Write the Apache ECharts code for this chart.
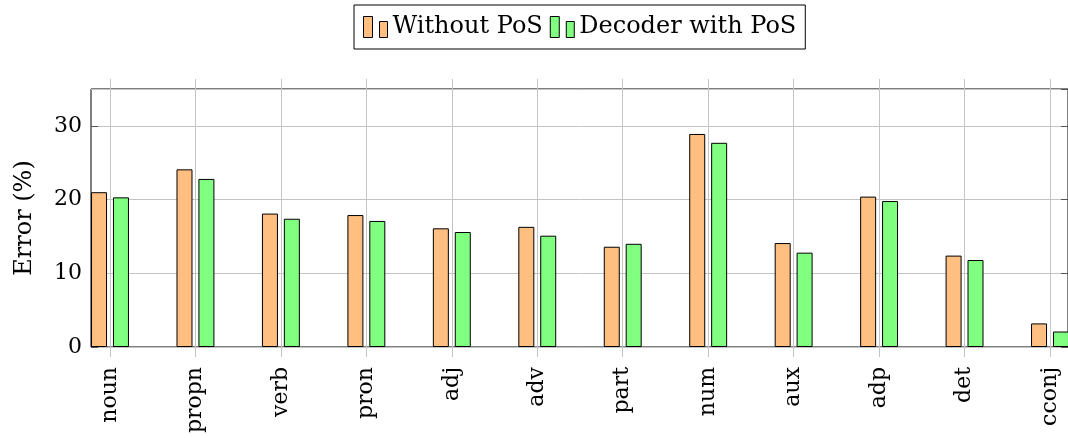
<!DOCTYPE html>
<html>
<head>
<meta charset="utf-8">
<script src="https://cdn.jsdelivr.net/npm/echarts@6/dist/echarts.min.js"></script>
<style>
  html, body { margin: 0; padding: 0; background: #fff; }
  #chart { width: 1068px; height: 438px; }
</style>
</head>
<body>
<div id="chart"></div>
<script>
const categories = ['noun', 'propn', 'verb', 'pron', 'adj', 'adv', 'part', 'num', 'aux', 'adp', 'det', 'cconj'];
const withoutPos = [21.0, 24.1, 18.1, 17.9, 16.1, 16.3, 13.6, 28.9, 14.1, 20.4, 12.4, 3.2];
const decoderPos = [20.3, 22.8, 17.4, 17.1, 15.6, 15.1, 14.0, 27.7, 12.8, 19.8, 11.8, 2.1];
const yTicks = [0, 10, 20, 30];

const FONT = 'DejaVu Serif';
const gridGray = '#c4c4c4';

let chart = echarts.init(document.getElementById('chart'));
let option = {
    animation: false,
    textStyle: { fontFamily: FONT, color: '#000' },
    legend: {
        left: 354,
        top: 5,
        padding: [10, 9, 10, 9],
        itemGap: 7,
        itemWidth: 24,
        itemHeight: 21,
        borderColor: '#000',
        borderWidth: 1,
        icon: 'path://M0,0h9v21h-9zM16,5h8v16h-8z',
        itemStyle: { borderColor: '#000', borderWidth: 1 },
        textStyle: { fontFamily: FONT, fontSize: 24, color: '#000' },
        data: ['Without PoS', 'Decoder with PoS']
    },
    grid: [
        // frame, y axis and horizontal grid lines
        { left: 91, top: 89, width: 978, height: 258, show: true, borderColor: '#000', borderWidth: 1, backgroundColor: 'transparent' },
        // category positions (pgfplots enlarged x limits)
        { left: 110, top: 89, width: 940, height: 258 }
    ],
    xAxis: [
        { gridIndex: 0, type: 'value', min: 0, max: 1, show: false },
        {
            gridIndex: 1, type: 'category', data: categories, boundaryGap: false,
            axisLine: { show: false },
            axisTick: { show: true, length: 10, lineStyle: { color: gridGray } },
            splitLine: { show: true, lineStyle: { color: gridGray, width: 1 } },
            axisLabel: { rotate: 90, margin: 20, fontFamily: FONT, fontSize: 22, color: '#000' }
        },
        {
            gridIndex: 1, type: 'category', data: categories, boundaryGap: false, position: 'top',
            axisLine: { show: false },
            axisTick: { show: true, length: 10, lineStyle: { color: gridGray } },
            axisLabel: { show: false },
            splitLine: { show: false }
        }
    ],
    yAxis: [
        {
            gridIndex: 0, type: 'value', min: 0, max: 35, interval: 10,
            name: 'Error (%)', nameLocation: 'middle', nameGap: 54, nameRotate: 90,
            nameTextStyle: { fontFamily: FONT, fontSize: 24, color: '#000' },
            axisLine: { show: false },
            axisTick: { show: true, inside: true, length: 7, lineStyle: { color: '#555' } },
            axisLabel: {
                margin: 9, fontFamily: FONT, fontSize: 22, color: '#000', showMaxLabel: false,
                formatter: function (v) { return yTicks.indexOf(v) >= 0 ? String(v) : ''; }
            },
            splitLine: { show: true, lineStyle: { color: gridGray, width: 1 } }
        },
        {
            gridIndex: 0, type: 'value', min: 0, max: 35, interval: 10, position: 'right',
            axisLine: { show: false },
            axisTick: { show: true, inside: true, length: 7, lineStyle: { color: '#555' } },
            axisLabel: { show: false },
            splitLine: { show: false }
        },
        { gridIndex: 1, type: 'value', min: 0, max: 35, show: false }
    ],
    series: [
        {
            name: 'Without PoS', type: 'bar', xAxisIndex: 1, yAxisIndex: 2,
            data: withoutPos, barWidth: 16, barGap: '37%', clip: false,
            itemStyle: { color: '#ffbf80', borderColor: '#000', borderWidth: 1 }
        },
        {
            name: 'Decoder with PoS', type: 'bar', xAxisIndex: 1, yAxisIndex: 2,
            data: decoderPos, barWidth: 16, clip: false,
            itemStyle: { color: '#80ff80', borderColor: '#000', borderWidth: 1 }
        }
    ]
};
chart.setOption(option);
</script>
</body>
</html>
